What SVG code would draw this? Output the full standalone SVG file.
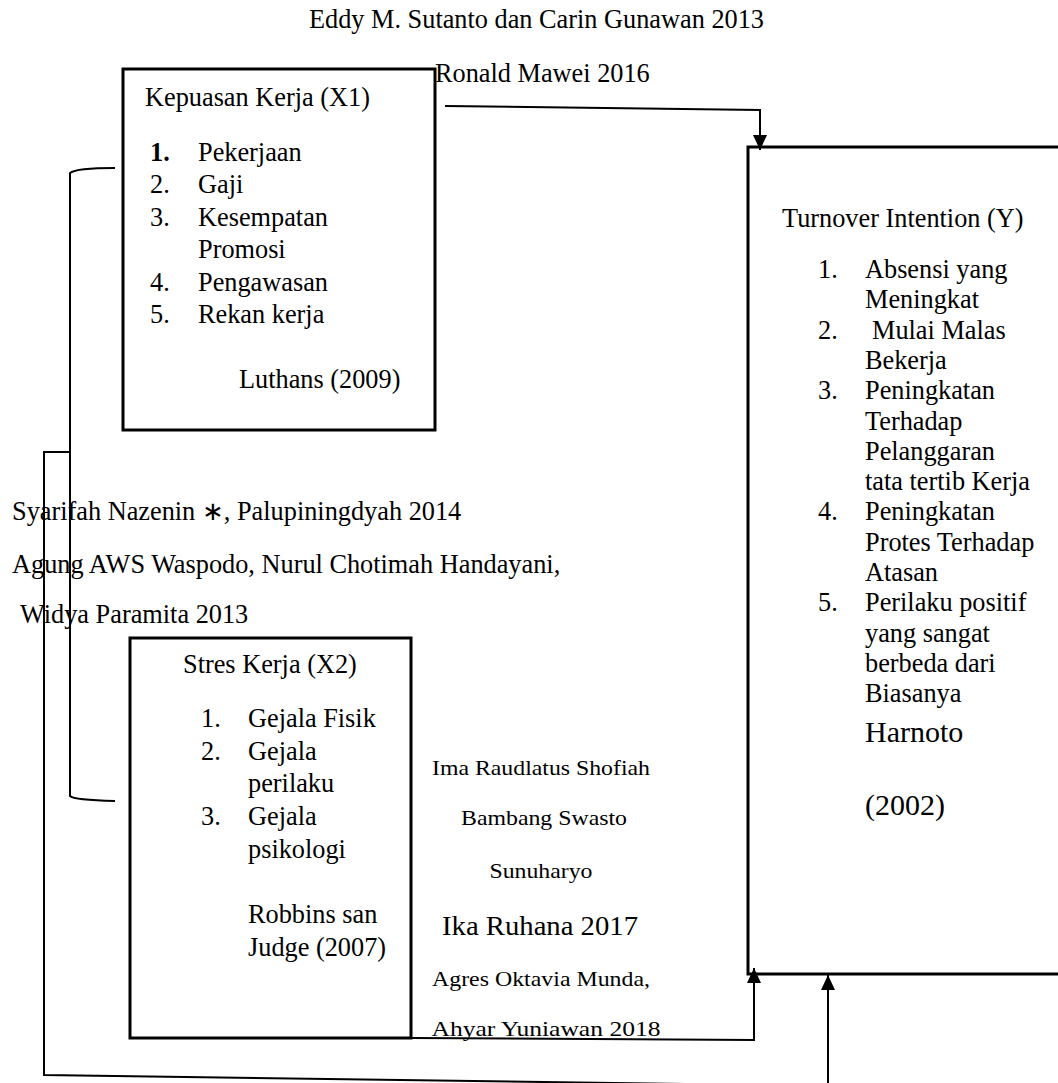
<svg xmlns="http://www.w3.org/2000/svg" width="1058" height="1083" viewBox="0 0 1058 1083">
<style>
text{font-family:"Liberation Serif","Times New Roman",serif;font-size:26.3px;fill:#000}
.sm{font-size:21px}
.big{font-size:30px}
.box{fill:none;stroke:#000;stroke-width:3}
.ln{fill:none;stroke:#000;stroke-width:2}
</style>
<defs>
<marker id="ah" viewBox="0 0 15 14" refX="15" refY="7" markerWidth="15" markerHeight="14" markerUnits="userSpaceOnUse" orient="auto">
<path d="M0,0 L15,7 L0,14 Z" fill="#000"/>
</marker>
</defs>
<rect width="1058" height="1083" fill="#fff"/>

<g id="labels">
<text x="309" y="28">Eddy M. Sutanto dan Carin Gunawan 2013</text>
<text x="435" y="82">Ronald Mawei 2016</text>
<text x="12" y="520">Syarifah Nazenin ∗, Palupiningdyah 2014</text>
<text x="12" y="573">Agung AWS Waspodo, Nurul Chotimah Handayani,</text>
<text x="20" y="623">Widya Paramita 2013</text>
<text class="sm" x="541" y="775" text-anchor="middle" textLength="218" lengthAdjust="spacingAndGlyphs">Ima Raudlatus Shofiah</text>
<text class="sm" x="544" y="825" text-anchor="middle" textLength="166" lengthAdjust="spacingAndGlyphs">Bambang Swasto</text>
<text class="sm" x="541" y="878" text-anchor="middle" textLength="103" lengthAdjust="spacingAndGlyphs">Sunuharyo</text>
<text x="540" y="935" text-anchor="middle" textLength="196" lengthAdjust="spacingAndGlyphs">Ika Ruhana 2017</text>
<text class="sm" x="541" y="986" text-anchor="middle" textLength="218" lengthAdjust="spacingAndGlyphs">Agres Oktavia Munda,</text>
<text class="sm" x="546" y="1036" text-anchor="middle" textLength="229" lengthAdjust="spacingAndGlyphs">Ahyar Yuniawan 2018</text>
</g>

<g id="node-x1">
<rect class="box" x="123" y="69" width="312" height="361"/>
<text x="145" y="106">Kepuasan Kerja (X1)</text>
<text x="150" y="161" font-weight="bold">1.</text><text x="198" y="161">Pekerjaan</text>
<text x="150" y="193">2.</text><text x="198" y="193">Gaji</text>
<text x="150" y="226">3.</text><text x="198" y="226">Kesempatan</text>
<text x="198" y="258">Promosi</text>
<text x="150" y="291">4.</text><text x="198" y="291">Pengawasan</text>
<text x="150" y="323">5.</text><text x="198" y="323">Rekan kerja</text>
<text x="239" y="388">Luthans (2009)</text>
</g>

<g id="node-x2">
<rect class="box" x="130" y="638" width="281" height="400"/>
<text x="183" y="673">Stres Kerja (X2)</text>
<text x="201" y="727">1.</text><text x="248" y="727">Gejala Fisik</text>
<text x="201" y="760">2.</text><text x="248" y="760">Gejala</text>
<text x="248" y="792">perilaku</text>
<text x="201" y="825">3.</text><text x="248" y="825">Gejala</text>
<text x="248" y="858">psikologi</text>
<text x="248" y="923">Robbins san</text>
<text x="248" y="956">Judge (2007)</text>
</g>

<g id="node-y">
<rect class="box" x="748" y="147" width="330" height="827"/>
<text x="782" y="227">Turnover Intention (Y)</text>
<text x="818" y="278">1.</text><text x="865" y="278">Absensi yang</text>
<text x="865" y="308">Meningkat</text>
<text x="818" y="339">2.</text><text x="872" y="339">Mulai Malas</text>
<text x="865" y="369">Bekerja</text>
<text x="818" y="399">3.</text><text x="865" y="399">Peningkatan</text>
<text x="865" y="430">Terhadap</text>
<text x="865" y="460">Pelanggaran</text>
<text x="865" y="490">tata tertib Kerja</text>
<text x="818" y="520">4.</text><text x="865" y="520">Peningkatan</text>
<text x="865" y="551">Protes Terhadap</text>
<text x="865" y="581">Atasan</text>
<text x="818" y="611">5.</text><text x="865" y="611">Perilaku positif</text>
<text x="865" y="642">yang sangat</text>
<text x="865" y="672">berbeda dari</text>
<text x="865" y="702">Biasanya</text>
<text class="big" x="865" y="742">Harnoto</text>
<text class="big" x="865" y="815">(2002)</text>
</g>

<g id="connectors">
<path class="ln" d="M445,106 L760,110 L760,150" marker-end="url(#ah)"/>
<path class="ln" d="M115,168 Q76,168 70,173 L70,796 Q74,800 115,801"/>
<path class="ln" d="M71,452 L44,452 L44,1075 L828,1086 L828,975" marker-end="url(#ah)"/>
<path class="ln" d="M411,1038 L754,1040 L754,968" marker-end="url(#ah)"/>
</g>
</svg>
